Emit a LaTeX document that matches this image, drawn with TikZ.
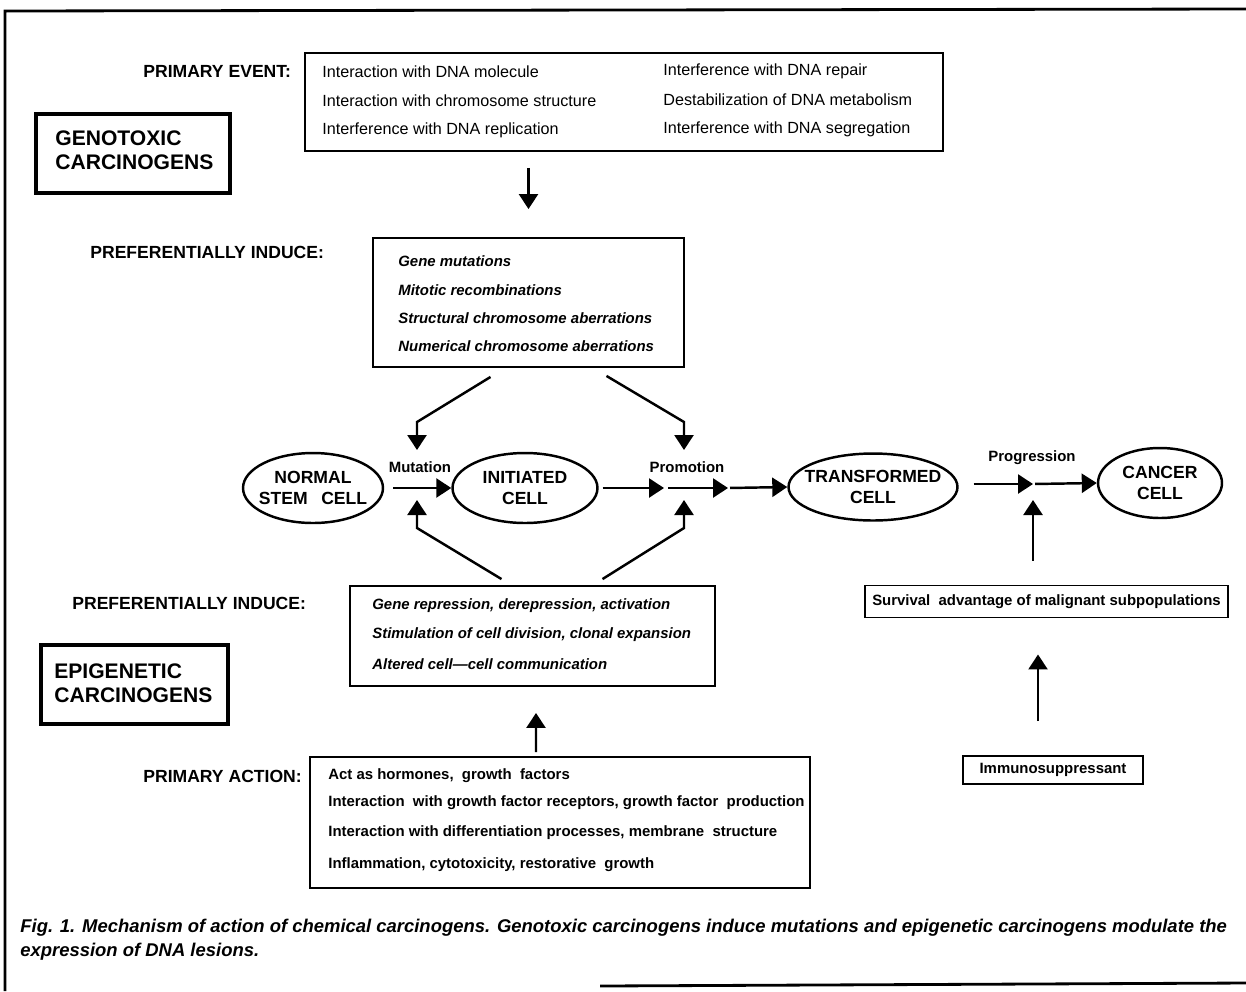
\documentclass[tikz,border=0pt]{standalone}
\usepackage{fontspec}
\setmainfont{Liberation Sans}
\usetikzlibrary{arrows.meta,shapes.geometric,calc}

\tikzset{
  box/.style={draw,line width=1.1pt,inner sep=0pt},
  namebox/.style={draw,line width=2.2pt,inner sep=0pt},
  cell/.style={draw,ellipse,line width=1.4pt,inner sep=0pt},
  celltext/.style={inner sep=0pt,align=center,font=\bfseries\fontsize{10}{11.5}\selectfont},
  heading/.style={anchor=west,inner sep=0pt,font=\bfseries\fontsize{10}{12}\selectfont},
  bigname/.style={anchor=west,inner sep=0pt,align=left,font=\bfseries\fontsize{12}{13.5}\selectfont},
  plain/.style={anchor=west,inner sep=0pt,font=\fontsize{9.2}{11}\selectfont},
  slant/.style={anchor=west,inner sep=0pt,font=\bfseries\itshape\fontsize{8.5}{10}\selectfont},
  heavy/.style={anchor=west,inner sep=0pt,font=\bfseries\fontsize{8.5}{10}\selectfont},
  steplabel/.style={inner sep=0pt,font=\bfseries\fontsize{8.5}{10}\selectfont},
  arr/.style={line width=1.4pt,-{Triangle[length=0.3cm,width=0.38cm]}}
}

\begin{document}
\begin{tikzpicture}[x=0.02cm,y=-0.02cm]
\useasboundingbox (0,0) rectangle (1246,991);
% frame of the figure
\draw[line width=1.6pt] (5,991) -- (5,11) -- (1246,9);
\draw[line width=1.6pt] (600,986) -- (1246,983);

% genotoxic part
\node[heading] (evtlbl) at (143,71) {PRIMARY EVENT:};
\node[box,minimum width=12.76cm,minimum height=1.96cm] (event) at (624,102) {};
\node[plain] (e1) at (322,72) {Interaction with DNA molecule};
\node[plain] (e2) at (322,101) {Interaction with chromosome structure};
\node[plain] (e3) at (322,130) {Interference with DNA replication};
\node[plain] (e4) at (663,71) {Interference with DNA repair};
\node[plain] (e5) at (663,100) {Destabilization of DNA metabolism};
\node[plain] (e6) at (663,129) {Interference with DNA segregation};

\node[namebox,minimum width=3.88cm,minimum height=1.58cm] (geno) at (133,153.5) {};
\node[bigname] (genotxt) at (55,150) {GENOTOXIC\\CARCINOGENS};

\node[heading] (indlbl1) at (90,252) {PREFERENTIALLY INDUCE:};
\node[box,minimum width=6.22cm,minimum height=2.58cm] (mutbox) at (528.5,302.5) {};
\node[slant] (m1) at (398,261) {Gene mutations};
\node[slant] (m2) at (398,290) {Mitotic recombinations};
\node[slant] (m3) at (398,318) {Structural chromosome aberrations};
\node[slant] (m4) at (398,346) {Numerical chromosome aberrations};

% the cells
\node[cell,minimum width=2.8cm,minimum height=1.4cm] (normal) at (313,488) {};
\node[cell,minimum width=2.9cm,minimum height=1.4cm] (initiated) at (525,488) {};
\node[cell,minimum width=3.38cm,minimum height=1.34cm] (transformed) at (873,487) {};
\node[cell,minimum width=2.48cm,minimum height=1.4cm] (cancer) at (1160,483) {};
\node[celltext] at (normal) {NORMAL\\STEM\enspace\ CELL};
\node[celltext] at (initiated) {INITIATED\\CELL};
\node[celltext] at (transformed) {TRANSFORMED\\CELL};
\node[celltext] at (cancer) {CANCER\\CELL};

\coordinate (mut) at (417,488);
\coordinate (prom) at (684,488);
\coordinate (p1) at (664,488);
\coordinate (p2) at (728,488);
\coordinate (prog) at (1033,484);

\node[steplabel] (mutlbl) at (420,467) {Mutation};
\node[steplabel] (promlbl) at (687,467) {Promotion};
\node[steplabel] (proglbl) at (1032,458) {Progression};

% epigenetic part
\node[heading] (indlbl2) at (72,603) {PREFERENTIALLY INDUCE:};
\node[box,minimum width=7.3cm,minimum height=2.0cm] (epibox) at (532.5,636) {};
\node[slant] (g1) at (372,606) {Gene repression, derepression, activation};
\node[slant] (g2) at (372,635) {Stimulation of cell division, clonal expansion};
\node[slant] (g3) at (372,664) {Altered cell—cell communication};

\node[namebox,minimum width=3.74cm,minimum height=1.58cm] (epi) at (134.5,684.5) {};
\node[bigname] (epitxt) at (54,683) {EPIGENETIC\\CARCINOGENS};

\node[heading] (actlbl) at (143,776) {PRIMARY ACTION:};
\node[box,minimum width=10cm,minimum height=2.62cm] (action) at (560,822.5) {};
\node[heavy] (a1) at (328,776) {Act as hormones,\ \ growth\ \ factors};
\node[heavy] (a2) at (328,803) {Interaction\ \ with growth factor receptors, growth factor\ \ production};
\node[heavy] (a3) at (328,833) {Interaction with differentiation processes, membrane\ \ structure};
\node[heavy] (a4) at (328,865) {Inflammation, cytotoxicity, restorative\ \ growth};

% progression side
\node[box,minimum width=7.26cm,minimum height=0.64cm,font=\bfseries\fontsize{8.5}{10}\selectfont] (survival) at (1046.5,601.5) {Survival\ \ advantage of malignant subpopulations};
\node[box,minimum width=3.6cm,minimum height=0.56cm,font=\bfseries\fontsize{8.5}{10}\selectfont] (immuno) at (1053,770) {Immunosuppressant};

% arrows
\draw[arr,shorten <=0.32cm,shorten >=0.56cm] (event.south -| mutbox.north) -- (mutbox.north);
\draw[arr] ($(mutbox.south)+(-38,9)$) -- ($(mut)+(0,-66)$) -- ($(mut)+(0,-38)$);
\draw[arr] ($(mutbox.south)+(78,8)$) -- ($(prom)+(0,-66)$) -- ($(prom)+(0,-38)$);
\draw[arr] ($(epibox.north)+(-31,-6)$) -- ($(mut)+(0,40)$) -- ($(mut)+(0,12)$);
\draw[arr] ($(epibox.north)+(70,-6)$) -- ($(prom)+(0,40)$) -- ($(prom)+(0,12)$);
\draw[arr] ($(action.north)+(-24,-4)$) -- ($(epibox.south)+(3.5,26)$);

\draw[arr,shorten <=0.18cm] (normal.east) -- (initiated.west);
\draw[arr,shorten <=0.08cm] (initiated.east) -- (p1);
\draw[arr,shorten <=0.08cm] (p1) -- (p2);
\draw[arr,shorten <=0.04cm] (p2) -- (transformed.west);
\draw[arr,shorten <=0.3cm] (transformed.east |- prog) -- (prog);
\draw[arr,shorten <=0.04cm] (prog) -- (cancer.west);
\draw[arr,shorten <=0.48cm] (survival.north -| prog) -- ($(prog)+(0,16)$);
\draw[arr] ($(immuno.north)+(-15,-34)$) -- ($(survival.south)+(-8.5,36)$);

% caption
\node[anchor=north west,inner sep=0pt,align=left,font=\bfseries\itshape\fontsize{10.5}{13.6}\selectfont] (caption) at (20,919)
  {Fig. 1. Mechanism of action of chemical carcinogens. Genotoxic carcinogens induce mutations and epigenetic carcinogens modulate the\\expression of DNA lesions.};
\end{tikzpicture}
\end{document}
